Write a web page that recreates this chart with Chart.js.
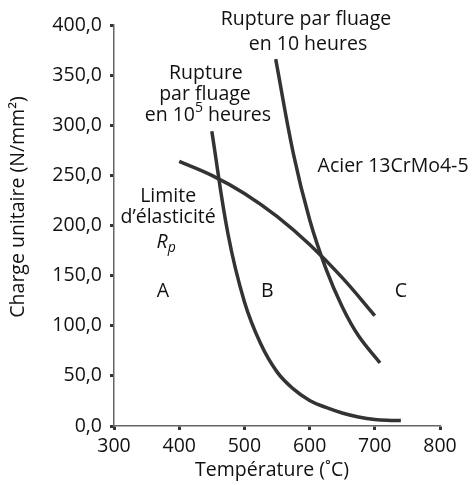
<!DOCTYPE html>
<html>
<head>
<meta charset="utf-8">
<script src="https://cdn.jsdelivr.net/npm/chart.js@4.4.1/dist/chart.umd.min.js"></script>
<style>
html,body{margin:0;padding:0;background:#fff;}
#c{display:block;}
</style>
</head>
<body>
<canvas id="c" width="473" height="485"></canvas>
<script>
// ---- data ----
const xTicks = [300, 400, 500, 600, 700, 800];
const yTicks = [0, 50, 100, 150, 200, 250, 300, 350, 400];

// Limite d'élasticité Rp
const rpTemp   = [400, 450, 500, 550, 600, 650, 700];
const rpValue  = [264, 250, 232, 209, 181, 148, 110];

// Rupture par fluage en 10^5 heures
const r105Temp  = [450, 475, 500, 525, 550, 575, 600, 625, 650, 675, 700, 725, 740];
const r105Value = [294, 191, 124, 82, 54, 37, 25.5, 18.5, 13, 9, 6.5, 5.6, 5.5];

// Rupture par fluage en 10 heures
const r10Temp  = [548, 575, 600, 625, 650, 675, 708];
const r10Value = [366, 272, 206, 157, 119, 90, 63];

const FONT = "'Open Sans', 'Noto Sans', sans-serif";
const FS = 19.5;

function pts(xs, ys){ return xs.map((x,i)=>({x:x, y:ys[i]})); }

const lineStyle = {
  borderColor: '#333333',
  borderWidth: 3.5,
  pointRadius: 0,
  fill: false,
  tension: 0.4,
  borderCapStyle: 'butt'
};

// annotation labels, positioned in data units
const labels = [
  {t:[{s:'Rupture par fluage'}], x:594.5, y:405.5},
  {t:[{s:'en 10 heures'}], x:597.5, y:380.5},
  {t:[{s:'Rupture'}], x:441, y:352},
  {t:[{s:'par fluage'}], x:439.5, y:331},
  {t:[{s:'en 10'},{s:'5',sup:true},{s:' heures'}], x:444, y:310},
  {t:[{s:'Acier 13CrMo4-5'}], x:728, y:259},
  {t:[{s:'Limite'}], x:383, y:229},
  {t:[{s:'d\u2019élasticité'}], x:383, y:208},
  {t:[{s:'R',it:true},{s:'p',it:true,sub:true}], x:380, y:183},
  {t:[{s:'A'}], x:375, y:134},
  {t:[{s:'B'}], x:535, y:134},
  {t:[{s:'C'}], x:740, y:134}
];

function segFont(seg){
  const small = seg.sup || seg.sub;
  return (seg.it ? 'italic ' : '') + (small ? Math.round(FS*0.72) : FS) + 'px ' + FONT;
}

const textPlugin = {
  id: 'texts',
  afterDraw(chart){
    const ctx = chart.ctx;
    const xs = chart.scales.x, ys = chart.scales.y;
    ctx.save();
    ctx.fillStyle = '#111';
    ctx.textBaseline = 'middle';
    ctx.textAlign = 'left';
    labels.forEach(l=>{
      let w = 0;
      l.t.forEach(seg=>{ ctx.font = segFont(seg); w += ctx.measureText(seg.s).width; });
      let px = xs.getPixelForValue(l.x) - w/2;
      const py = ys.getPixelForValue(l.y);
      l.t.forEach(seg=>{
        ctx.font = segFont(seg);
        let dy = 0;
        if (seg.sup) dy = -FS*0.35;
        if (seg.sub) dy = FS*0.3;
        ctx.fillText(seg.s, px, py + dy);
        px += ctx.measureText(seg.s).width;
      });
    });
    // axis titles
    ctx.font = FS + 'px ' + FONT;
    ctx.textAlign = 'center';
    ctx.fillText('Température (\u02DAC)', 272, 470);
    ctx.translate(18, 207);
    ctx.rotate(-Math.PI/2);
    ctx.fillText('Charge unitaire (N/mm\u00B2)', 0, 0);
    ctx.restore();
  }
};

new Chart(document.getElementById('c'), {
  type: 'line',
  data: {
    datasets: [
      Object.assign({label:'Rp', data: pts(rpTemp, rpValue)}, lineStyle),
      Object.assign({label:'10^5 h', data: pts(r105Temp, r105Value)}, lineStyle),
      Object.assign({label:'10 h', data: pts(r10Temp, r10Value)}, lineStyle)
    ]
  },
  options: {
    responsive: false,
    animation: false,
    devicePixelRatio: 1,
    layout: {padding: {left: 0, right: 33, top: 25, bottom: 0}},
    plugins: {legend: {display: false}, tooltip: {enabled: false}},
    scales: {
      x: {
        type: 'linear',
        min: 300, max: 800,
        afterBuildTicks(scale){ scale.ticks = xTicks.map(v=>({value:v})); },
        afterFit(scale){ scale.height = 59; },
        grid: {drawOnChartArea: false, drawTicks: true, tickLength: 4, tickWidth: 3, tickColor: '#333'},
        border: {display: true, color: '#666', width: 1.5},
        ticks: {color: '#111', font: {family: FONT, size: FS}, padding: 5, maxRotation: 0,
                callback: v => String(v)}
      },
      y: {
        min: 0, max: 400,
        afterBuildTicks(scale){ scale.ticks = yTicks.map(v=>({value:v})); },
        afterFit(scale){ scale.width = 114; },
        grid: {drawOnChartArea: false, drawTicks: true, tickLength: 4, tickWidth: 3, tickColor: '#333'},
        border: {display: true, color: '#666', width: 1.5},
        ticks: {color: '#111', font: {family: FONT, size: FS}, padding: 8,
                callback: v => v.toFixed(1).replace('.', ',')}
      }
    }
  },
  plugins: [textPlugin]
});
</script>
</body>
</html>
